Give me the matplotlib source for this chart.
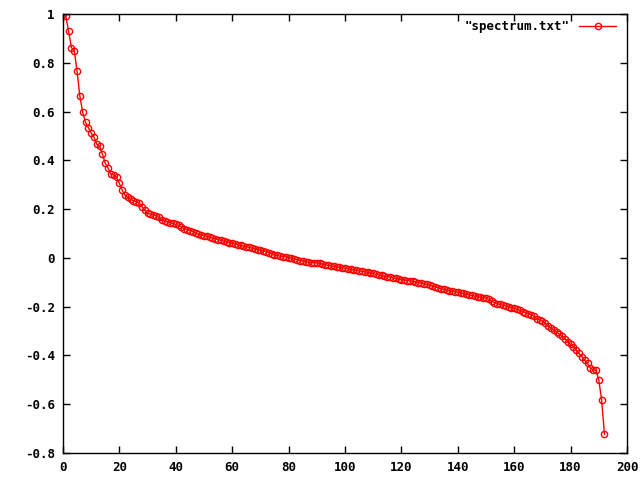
import matplotlib
matplotlib.use("Agg")
import matplotlib.pyplot as plt
from matplotlib.ticker import FormatStrFormatter, MultipleLocator

# values (spectrum.txt), index 0..192
spectrum = [
    1.000, 0.990, 0.930, 0.862, 0.850, 0.765, 0.662, 0.597, 0.556, 0.534,
    0.512, 0.495, 0.466, 0.458, 0.425, 0.388, 0.368, 0.343, 0.340, 0.331,
    0.306, 0.277, 0.257, 0.248, 0.240, 0.234, 0.230, 0.224, 0.210, 0.195,
    0.182, 0.180, 0.176, 0.172, 0.166, 0.155, 0.151, 0.148, 0.145, 0.141,
    0.137, 0.134, 0.127, 0.120, 0.115, 0.112, 0.108, 0.101, 0.097, 0.094,
    0.091, 0.089, 0.085, 0.081, 0.078, 0.075, 0.072, 0.069, 0.066, 0.063,
    0.060, 0.057, 0.054, 0.051, 0.048, 0.045, 0.043, 0.040, 0.037, 0.034,
    0.032, 0.029, 0.026, 0.022, 0.017, 0.013, 0.010, 0.007, 0.005, 0.004,
    0.001, -0.001, -0.004, -0.008, -0.011, -0.013, -0.016, -0.018, -0.019, -0.020,
    -0.021, -0.022, -0.025, -0.028, -0.031, -0.033, -0.035, -0.037, -0.038, -0.040,
    -0.042, -0.045, -0.047, -0.049, -0.051, -0.053, -0.055, -0.057, -0.059, -0.061,
    -0.064, -0.067, -0.070, -0.072, -0.075, -0.077, -0.079, -0.082, -0.084, -0.087,
    -0.089, -0.091, -0.093, -0.094, -0.096, -0.098, -0.101, -0.104, -0.107, -0.109,
    -0.111, -0.115, -0.119, -0.123, -0.126, -0.129, -0.133, -0.135, -0.137, -0.139,
    -0.141, -0.143, -0.146, -0.149, -0.152, -0.154, -0.157, -0.159, -0.161, -0.163,
    -0.165, -0.170, -0.178, -0.183, -0.188, -0.191, -0.194, -0.197, -0.201, -0.204,
    -0.207, -0.211, -0.215, -0.220, -0.224, -0.229, -0.233, -0.240, -0.250, -0.255,
    -0.259, -0.268, -0.279, -0.288, -0.296, -0.304, -0.313, -0.322, -0.332, -0.343,
    -0.355, -0.364, -0.378, -0.392, -0.405, -0.420, -0.433, -0.452, -0.459, -0.461,
    -0.501, -0.583, -0.723,
]
index = list(range(len(spectrum)))

plt.rcParams['font.family'] = ['DejaVu Sans Mono']
plt.rcParams['font.weight'] = 'bold'

fig = plt.figure(figsize=(6.4, 4.8), dpi=100)
ax = fig.add_axes([0.0984, 0.0563, 0.8813, 0.9145])

ax.plot(index, spectrum, color='red', linewidth=1, marker='o',
        markersize=4.5, fillstyle='none', markeredgewidth=1,
        label='"spectrum.txt"')

ax.set_xlim(0, 200)
ax.set_ylim(-0.8, 1)
ax.xaxis.set_major_locator(MultipleLocator(20))
ax.yaxis.set_major_locator(MultipleLocator(0.2))
ax.yaxis.set_major_formatter(FormatStrFormatter('%g'))
ax.tick_params(direction='in', top=True, right=True, length=5,
               labelsize=9, width=1, pad=6)
for s in ax.spines.values():
    s.set_linewidth(1)

ax.legend(loc='upper right', frameon=False, markerfirst=False,
          fontsize=9, handlelength=3.0, handletextpad=0.7,
          borderaxespad=0.0, bbox_to_anchor=(0.99, 0.998))

fig.savefig('out.png', dpi=100)
